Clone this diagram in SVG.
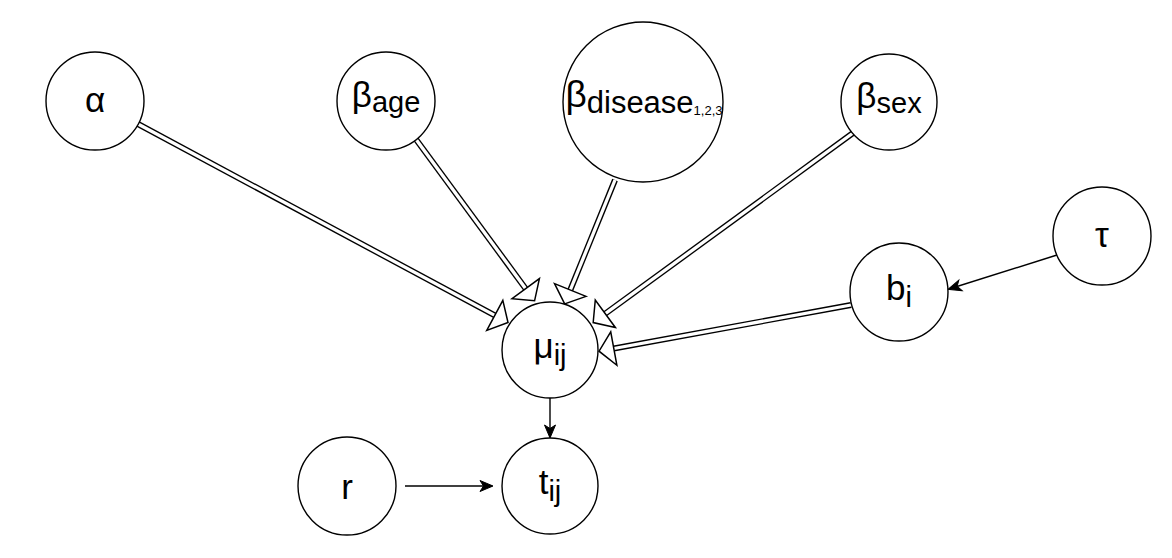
<svg xmlns="http://www.w3.org/2000/svg" width="1172" height="558" viewBox="0 0 1172 558">
<style>
.node circle{fill:#fff;stroke:#000;stroke-width:1.4}
.node text{font-family:"Liberation Sans",Arial,sans-serif;font-size:35px;fill:#000;text-anchor:middle}
.sub{font-size:29px}
.sub2{font-size:13px}
.dbl-out{fill:none;stroke:#000;stroke-width:6}
.dbl-in{fill:none;stroke:#fff;stroke-width:3.3;marker-end:url(#block)}
.plain{fill:none;stroke:#000;stroke-width:1.4;marker-end:url(#classic)}
</style>
<defs>
<marker id="block" viewBox="0 0 15 34" markerWidth="15" markerHeight="34" refX="0" refY="17" orient="auto" markerUnits="userSpaceOnUse" overflow="visible">
<path d="M0,0 L15,17 L0,34 Z" fill="#fff" stroke="#000" stroke-width="1.5" stroke-linejoin="miter"/>
</marker>
<marker id="classic" viewBox="0 0 13 11" markerWidth="13" markerHeight="11" refX="12" refY="5.5" orient="auto" markerUnits="userSpaceOnUse" overflow="visible">
<path d="M0,0 L13,5.5 L0,11 L3.5,5.5 Z" fill="#000" stroke="#000" stroke-width="1"/>
</marker>
</defs>
<rect width="1172" height="558" fill="#fff"/>
<g id="connectors">
<path class="dbl-out" d="M138,124 L494.8,315.4"/>
<path class="dbl-in" d="M138,124 L494.8,315.4"/>
<path class="dbl-out" d="M415,138 L525.7,288.7"/>
<path class="dbl-in" d="M415,138 L525.7,288.7"/>
<path class="dbl-out" d="M615,180 L570.3,290"/>
<path class="dbl-in" d="M615,180 L570.3,290"/>
<path class="dbl-out" d="M853,133 L605.3,313.7"/>
<path class="dbl-in" d="M853,133 L605.3,313.7"/>
<path class="dbl-out" d="M851,305 L613.8,348.5"/>
<path class="dbl-in" d="M851,305 L613.8,348.5"/>
<path class="plain" d="M1057,255 L949,289"/>
<path class="plain" d="M550,398 L550,437"/>
<path class="plain" d="M405,486 L492,486"/>
</g>
<g id="node-alpha" class="node"><circle cx="95" cy="101" r="49"/><text x="95" y="112">α</text></g>
<g id="node-beta-age" class="node"><circle cx="386" cy="101" r="49"/><text x="386" y="107">β<tspan class="sub" dy="5">age</tspan></text></g>
<g id="node-beta-disease" class="node"><circle cx="643" cy="102" r="80"/><text x="644" y="107" style="font-size:37px">β<tspan class="sub" style="font-size:31px" dy="6">disease</tspan><tspan class="sub2" dy="2">1,2,3</tspan></text></g>
<g id="node-beta-sex" class="node"><circle cx="889" cy="102" r="48"/><text x="889" y="108">β<tspan class="sub" dy="5">sex</tspan></text></g>
<g id="node-tau" class="node"><circle cx="1102" cy="236" r="49"/><text x="1102" y="247">τ</text></g>
<g id="node-b" class="node"><circle cx="899" cy="292" r="49"/><text x="899" y="300">b<tspan class="sub" dy="7">i</tspan></text></g>
<g id="node-mu" class="node"><circle cx="550" cy="350" r="48"/><text x="550" y="358">μ<tspan class="sub" dy="7">ij</tspan></text></g>
<g id="node-t" class="node"><circle cx="550" cy="486" r="48"/><text x="550" y="494">t<tspan class="sub" dy="7">ij</tspan></text></g>
<g id="node-r" class="node"><circle cx="347" cy="486" r="49"/><text x="347" y="499">r</text></g>
</svg>
